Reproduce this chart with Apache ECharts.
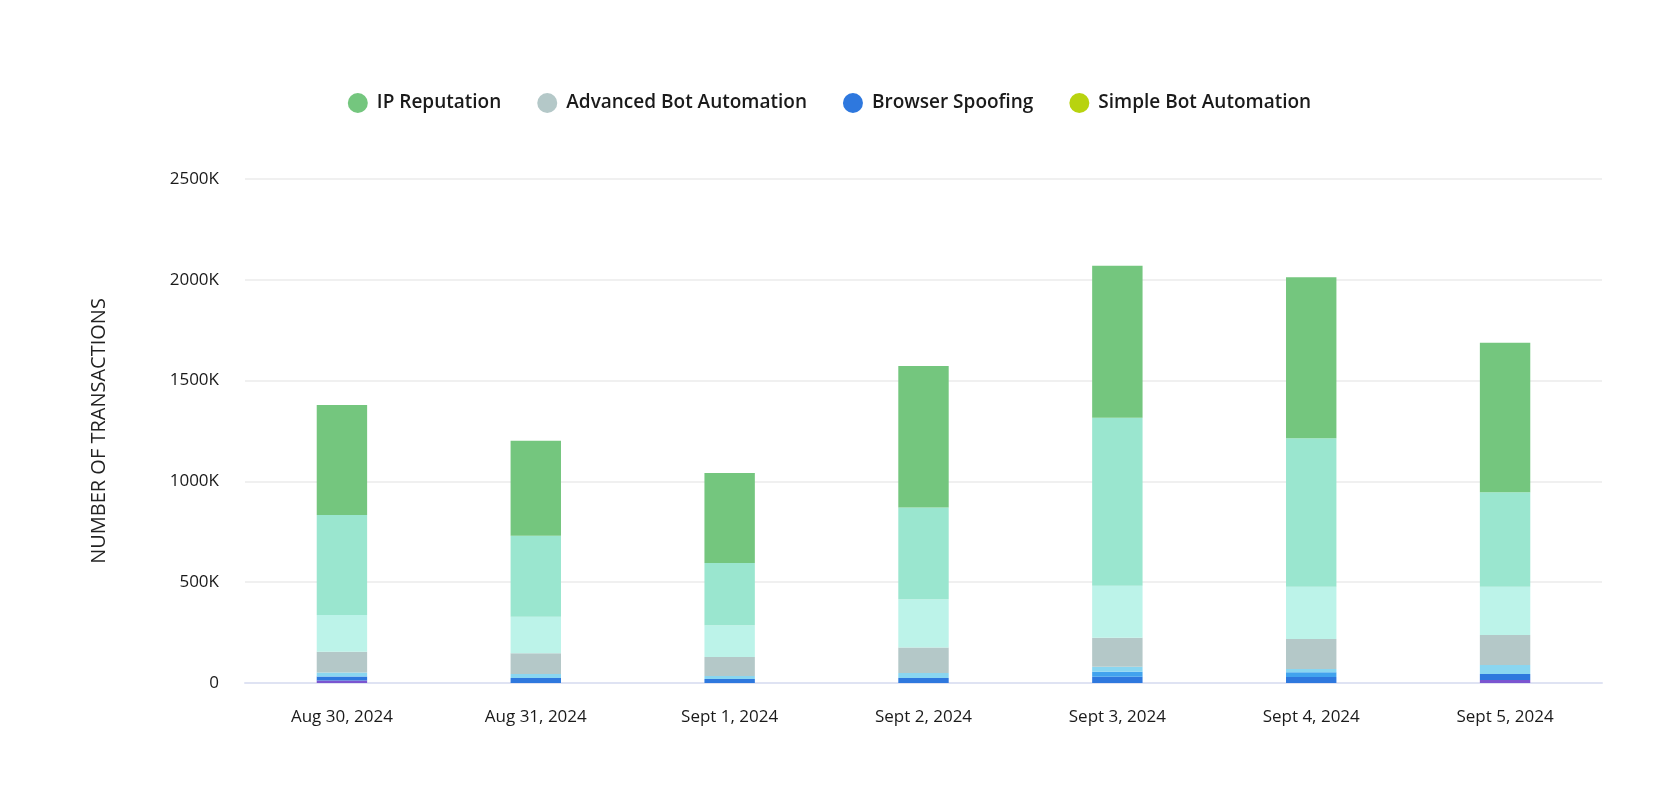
<!DOCTYPE html>
<html>
<head>
<meta charset="utf-8">
<script src="https://cdn.jsdelivr.net/npm/echarts@6/dist/echarts.min.js"></script>
<style>
html,body{margin:0;padding:0;background:#fff;}
#chart{width:1659px;height:795px;}
</style>
</head>
<body>
<div id="chart"></div>
<script>
const categories = ['Aug 30, 2024','Aug 31, 2024','Sept 1, 2024','Sept 2, 2024','Sept 3, 2024','Sept 4, 2024','Sept 5, 2024'];
const yTicks = [0, 500000, 1000000, 1500000, 2000000, 2500000];
// segment values (bottom to top), in transactions
const otherPurple   = [12000, 0, 0, 0, 0, 0, 15000];
const browserSpoofing = [20000, 25000, 20000, 25000, 31000, 30000, 30000];
const otherMidBlue  = [0, 0, 0, 0, 25000, 23000, 0];
const otherSky      = [20000, 20000, 15000, 25000, 25000, 16000, 44000];
const advancedBot   = [103000, 102000, 94000, 126000, 144000, 149000, 149000];
const otherLightMint= [182000, 182000, 157000, 239000, 258000, 260000, 240000];
const otherMint     = [496000, 401000, 309000, 455000, 833000, 736000, 468000];
const ipReputation  = [546000, 472000, 447000, 702000, 754000, 799000, 742000];
const simpleBot     = [0, 0, 0, 0, 0, 0, 0];

const legendNames = ['IP Reputation','Advanced Bot Automation','Browser Spoofing','Simple Bot Automation'];

function bar(name, data, color){
  return {name:name, type:'bar', stack:'total', data:data, barWidth:'26%',
    itemStyle:{color:color}, emphasis:{disabled:true}};
}

const FONT = 'Open Sans';
const chart = echarts.init(document.getElementById('chart'), null, {renderer:'canvas'});
chart.setOption({
  animation:false,
  backgroundColor:'#ffffff',
  textStyle:{fontFamily:FONT},
  legend:{
    data:legendNames.map(n=>({name:n, icon:'circle'})),
    top:88, left:'center',
    itemWidth:20, itemHeight:20, itemGap:36,
    textStyle:{fontFamily:FONT, fontSize:19, fontWeight:600, color:'#1a1a1a', padding:[0,0,0,4]}
  },
  grid:{left:245, right:57, top:179, bottom:112},
  xAxis:{
    type:'category', data:categories,
    axisLine:{show:true, lineStyle:{color:'#dfe3f3', width:2}},
    axisTick:{show:false},
    axisLabel:{fontFamily:FONT, fontSize:17, fontWeight:500, color:'#1a1a1a', margin:26}
  },
  yAxis:{
    type:'value', min:0, max:2500000, interval:500000,
    name:'NUMBER OF TRANSACTIONS', nameLocation:'middle', nameGap:136,
    nameTextStyle:{fontFamily:FONT, fontSize:20, color:'#222'},
    axisLine:{show:false}, axisTick:{show:false},
    axisLabel:{fontFamily:FONT, fontSize:17, color:'#1a1a1a', margin:26,
      formatter:v=> v===0 ? '0' : (v/1000)+'K'},
    splitLine:{lineStyle:{color:'#f0f0f0', width:2}}
  },
  series:[
    bar('Other (purple)', otherPurple, '#7a55d0'),
    bar('Browser Spoofing', browserSpoofing, '#2e78de'),
    bar('Other (mid blue)', otherMidBlue, '#41a3ee'),
    bar('Other (sky)', otherSky, '#8ad6f0'),
    bar('Advanced Bot Automation', advancedBot, '#b4c8c8'),
    bar('Other (light mint)', otherLightMint, '#bcf3e9'),
    bar('Other (mint)', otherMint, '#9ae6cf'),
    bar('IP Reputation', ipReputation, '#74c67e'),
    bar('Simple Bot Automation', simpleBot, '#b8d30f')
  ]
});
</script>
</body>
</html>
